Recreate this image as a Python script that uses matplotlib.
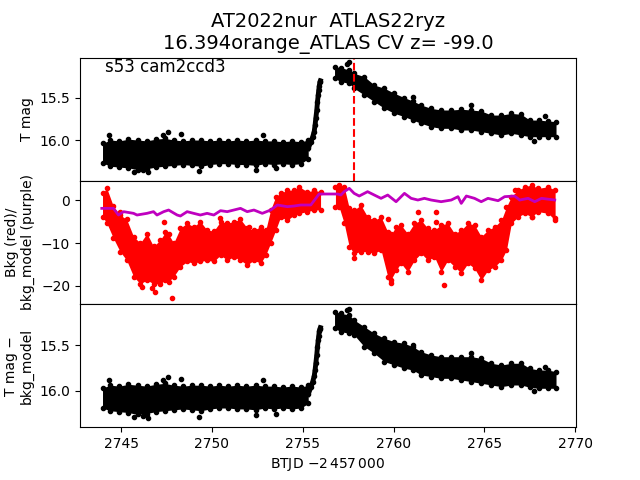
import matplotlib
matplotlib.use("Agg")
import matplotlib.pyplot as plt

# quiescent part (before outburst), band edges in T mag
t_quies = [2743.97, 2744.4, 2744.9, 2745.4, 2745.9, 2746.4, 2746.9, 2747.4, 2747.9, 2748.4,
           2748.9, 2749.4, 2749.9, 2750.4, 2750.9, 2751.4, 2751.9, 2752.4, 2752.9, 2753.4,
           2753.9, 2754.4, 2754.9, 2755.3]
mag_quies_hi = [16.04, 16.00, 16.01, 15.99, 16.00, 16.01, 15.99, 15.98, 16.00, 16.01,
                16.00, 16.00, 16.01, 16.00, 16.01, 16.00, 16.01, 16.00, 16.01, 16.01,
                16.02, 16.01, 16.02, 16.00]
mag_quies_lo = [16.27, 16.31, 16.32, 16.33, 16.35, 16.34, 16.32, 16.31, 16.30, 16.29,
                16.30, 16.31, 16.29, 16.28, 16.28, 16.29, 16.29, 16.30, 16.28, 16.29,
                16.28, 16.29, 16.28, 16.22]
corr_quies_hi = [15.97, 15.94, 15.95, 15.93, 15.94, 15.95, 15.93, 15.92, 15.94, 15.95,
                 15.94, 15.94, 15.95, 15.94, 15.95, 15.94, 15.95, 15.94, 15.95, 15.95,
                 15.96, 15.95, 15.96, 15.94]
corr_quies_lo = [16.19, 16.22, 16.23, 16.24, 16.26, 16.25, 16.23, 16.22, 16.21, 16.20,
                 16.21, 16.22, 16.20, 16.19, 16.19, 16.20, 16.20, 16.21, 16.19, 16.20,
                 16.19, 16.20, 16.19, 16.14]

# rise into outburst
t_rise = [2755.30, 2755.45, 2755.55, 2755.63, 2755.68, 2755.72, 2755.77, 2755.81, 2755.85,
          2755.88, 2755.91, 2755.94, 2755.97]
mag_rise = [16.10, 16.02, 15.96, 15.90, 15.82, 15.74, 15.65, 15.55, 15.47, 15.41, 15.36, 15.32, 15.30]
corr_rise = [16.04, 15.96, 15.90, 15.84, 15.77, 15.70, 15.61, 15.52, 15.45, 15.40, 15.35, 15.33, 15.31]

# decline after the gap
t_decl = [2756.75, 2757.10, 2757.56, 2757.83, 2758.39, 2758.94, 2759.50, 2760.05, 2760.60, 2761.06,
          2761.52, 2762.07, 2762.62, 2763.18, 2763.73, 2764.28, 2764.83, 2765.39, 2765.94, 2766.49,
          2767.04, 2767.50, 2768.00, 2768.50, 2768.95]
mag_decl_hi = [15.133, 15.145, 15.172, 15.212, 15.251, 15.350, 15.389, 15.448, 15.500, 15.539,
               15.586, 15.626, 15.645, 15.645, 15.637, 15.645, 15.657, 15.705, 15.705, 15.685,
               15.697, 15.764, 15.764, 15.775, 15.783]
mag_decl_lo = [15.271, 15.311, 15.330, 15.389, 15.468, 15.547, 15.626, 15.685, 15.724, 15.764,
               15.803, 15.842, 15.862, 15.862, 15.882, 15.882, 15.902, 15.921, 15.941, 15.921,
               15.941, 15.961, 15.961, 15.961, 15.961]
corr_decl_hi = [15.135, 15.153, 15.172, 15.226, 15.300, 15.372, 15.427, 15.464, 15.482, 15.518,
                15.573, 15.609, 15.628, 15.628, 15.628, 15.628, 15.646, 15.700, 15.719, 15.700,
                15.700, 15.755, 15.774, 15.774, 15.792]
corr_decl_lo = [15.318, 15.354, 15.372, 15.390, 15.518, 15.591, 15.682, 15.719, 15.755, 15.774,
                15.828, 15.846, 15.865, 15.865, 15.883, 15.901, 15.919, 15.938, 15.956, 15.938,
                15.938, 15.963, 15.974, 15.974, 15.974]

# stray points outside the band
t_stray = [2744.35, 2745.70, 2746.20, 2746.50, 2747.30, 2747.60, 2748.30, 2749.30, 2752.40, 2752.80,
           2753.50, 2757.45, 2757.56, 2761.06, 2764.28, 2767.75, 2768.33]
mag_stray = [15.94, 16.38, 16.36, 16.38, 15.94, 15.91, 15.93, 16.37, 16.35, 15.94,
             16.33, 15.10, 15.08, 15.49, 15.59, 16.01, 15.72]
corr_stray = [15.88, 16.29, 16.28, 16.30, 15.88, 15.85, 15.87, 16.29, 16.27, 15.88,
              16.25, 15.12, 15.11, 15.50, 15.59, 16.00, 15.74]

# background flux
t_bkg_a = [2743.97, 2744.21, 2744.57, 2744.94, 2745.30, 2745.68, 2746.05, 2746.42, 2746.78, 2747.15,
           2747.43, 2747.61, 2747.89, 2748.26, 2748.63, 2748.99, 2749.36, 2749.73, 2750.10, 2750.47,
           2750.84, 2751.20, 2751.57, 2751.94, 2752.31, 2752.68, 2752.96, 2753.23, 2753.51, 2753.78,
           2754.15, 2754.52, 2754.80, 2755.26, 2755.63, 2755.98]
bkg_a_hi = [1.6, 2.7, -1.5, -3.5, -4.5, -8.5, -10.0, -7.8, -10.8, -9.3,
            -7.5, -8.0, -10.0, -6.5, -5.4, -6.2, -5.0, -7.0, -7.2, -5.0,
            -5.4, -5.0, -4.5, -6.5, -7.0, -6.2, -7.0, -2.3, 0.8, 1.6,
            2.3, 2.3, 3.1, 1.9, 2.3, 1.9]
bkg_a_lo = [-3.9, -5.4, -8.9, -12.0, -14.0, -17.8, -19.5, -18.6, -19.5, -19.5,
            -18.6, -19.0, -17.8, -15.5, -14.3, -14.7, -14.3, -14.0, -14.3, -12.8,
            -14.0, -13.2, -14.0, -15.1, -14.0, -14.7, -12.8, -10.0, -7.0, -3.9,
            -4.7, -3.5, -3.1, -2.7, -2.3, -2.3]
t_bkg_b = [2756.80, 2757.00, 2757.28, 2757.56, 2757.83, 2758.20, 2758.57, 2758.94, 2759.31, 2759.68,
           2759.86, 2760.14, 2760.41, 2760.78, 2761.15, 2761.52, 2761.89, 2762.25, 2762.62, 2762.99,
           2763.36, 2763.73, 2764.10, 2764.46, 2764.83, 2765.20, 2765.57, 2765.94, 2766.22, 2766.49,
           2766.86, 2767.23, 2767.60, 2767.96, 2768.52, 2768.90]
bkg_b_hi = [3.1, 3.5, 3.1, -1.9, -2.3, -1.2, -3.9, -4.7, -3.9, -7.4,
            -8.0, -6.2, -5.8, -7.8, -5.4, -4.7, -6.6, -7.0, -5.8, -5.4,
            -7.8, -7.0, -5.4, -5.8, -8.5, -7.0, -6.2, -4.7, -1.6, 0.8,
            2.3, 3.1, 3.5, 2.7, 3.1, 2.3]
bkg_b_lo = [-1.6, -1.6, -5.4, -10.9, -12.4, -12.0, -12.0, -12.4, -11.6, -17.8,
            -18.5, -16.3, -14.7, -16.7, -14.0, -12.4, -14.0, -13.2, -16.7, -14.0,
            -15.5, -17.0, -14.7, -15.9, -18.6, -16.3, -15.5, -14.0, -11.6, -5.4,
            -3.9, -3.1, -3.9, -2.7, -3.1, -4.7]
t_bkg_stray = [2744.92, 2746.14, 2746.69, 2746.87, 2747.36, 2747.82, 2750.46, 2752.02, 2757.83,
               2759.68, 2759.86, 2761.34, 2762.35, 2762.35, 2762.76, 2766.67, 2767.60, 2768.88]
bkg_stray = [-2.7, -20.3, -20.5, -21.3, -5.0, -22.9, -4.3, -6.2, -13.6,
             -4.5, -19.4, -2.7, -2.7, -5.0, -19.8, 2.3, -3.9, -4.1]

# background model
t_model = [2743.93, 2744.57, 2744.85, 2745.13, 2745.68, 2745.87, 2746.42, 2746.78, 2746.97, 2747.34,
           2747.61, 2748.08, 2748.26, 2748.63, 2748.99, 2749.36, 2749.73, 2750.10, 2750.47, 2750.84,
           2751.20, 2751.57, 2751.94, 2752.31, 2752.77, 2753.23, 2753.60, 2754.15, 2754.52, 2754.89,
           2755.44, 2755.72, 2755.90, 2756.92, 2757.10, 2757.28, 2757.56, 2757.83, 2758.11, 2758.57,
           2758.94, 2759.31, 2759.68, 2760.14, 2760.60, 2760.97, 2761.34, 2761.70, 2762.07, 2762.62,
           2763.18, 2763.55, 2763.73, 2764.01, 2764.46, 2764.83, 2765.20, 2765.76, 2766.12, 2766.67,
           2766.95, 2767.41, 2767.78, 2768.15, 2768.88]
bkg_model = [-1.94, -1.94, -3.49, -2.71, -3.10, -3.49, -3.10, -2.71, -3.49, -2.71,
             -2.33, -3.49, -3.72, -2.71, -3.10, -3.49, -3.10, -3.49, -2.48, -2.71,
             -2.33, -1.94, -2.71, -2.33, -3.10, -2.33, -1.16, -1.55, -1.40, -1.16,
             -1.16, 0.39, 1.40, 1.40, 1.16, 1.94, 2.71, 1.55, 0.93, 1.94,
             1.16, 0.39, 1.16, -0.39, 1.55, 0.39, 0.00, 0.39, 0.00, -0.39,
             0.00, 0.78, -0.78, 0.93, 0.39, -0.39, 0.39, -0.16, 0.78, 0.93,
             0.00, 0.39, -0.39, 0.39, 0.00]

t_peak = 2757.8


def band(ax, t, hi, lo, color):
    # dense cloud of points: filled band with the edge points on top
    ax.fill_between(t, hi, lo, color=color, lw=0)
    ax.plot(t, hi, '.', color=color)
    ax.plot(t, lo, '.', color=color)


def main():
    fig, axes = plt.subplots(3, 1, sharex=True, figsize=(6.4, 4.8))
    plt.subplots_adjust(hspace=0)
    ax1, ax2, ax3 = axes

    band(ax1, t_quies, mag_quies_hi, mag_quies_lo, 'k')
    band(ax1, t_decl, mag_decl_hi, mag_decl_lo, 'k')
    ax1.plot(t_rise, mag_rise, 'k.-', lw=3.5)
    ax1.plot(t_stray, mag_stray, 'k.')
    ax1.axvline(t_peak, color='r', ls='--', lw=1.5)
    ax1.set_ylim(16.482, 15.026)
    ax1.set_yticks([15.5, 16.0])
    ax1.set_ylabel('T mag')
    ax1.set_title('AT2022nur  ATLAS22ryz\n16.394orange_ATLAS CV z= -99.0', fontsize=14)
    ax1.text(0.05, 1.0, 's53 cam2ccd3', transform=ax1.transAxes, va='top', fontsize=12)

    band(ax2, t_bkg_a, bkg_a_hi, bkg_a_lo, 'r')
    band(ax2, t_bkg_b, bkg_b_hi, bkg_b_lo, 'r')
    ax2.plot(t_bkg_stray, bkg_stray, 'r.')
    ax2.plot(t_model, bkg_model, color='m', lw=2)
    ax2.set_ylim(-24.19, 4.47)
    ax2.set_yticks([0, -10, -20])
    ax2.set_ylabel('Bkg (red)/\nbkg_model (purple)')

    band(ax3, t_quies, corr_quies_hi, corr_quies_lo, 'k')
    band(ax3, t_decl, corr_decl_hi, corr_decl_lo, 'k')
    ax3.plot(t_rise, corr_rise, 'k.-', lw=3.5)
    ax3.plot(t_stray, corr_stray, 'k.')
    ax3.set_ylim(16.40, 15.051)
    ax3.set_yticks([15.5, 16.0])
    ax3.set_ylabel('T mag \u2212\nbkg_model')

    ax3.set_xlim(2742.73, 2770.05)
    ax3.set_xlabel(r'BTJD $-2\,457\,000$')

    fig.savefig('out.png', dpi=100)


if __name__ == "__main__":
    main()
